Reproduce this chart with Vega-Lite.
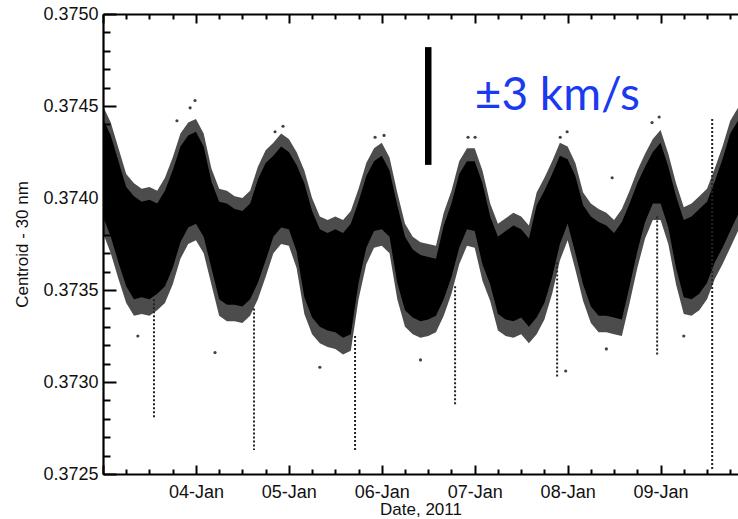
{
  "$schema": "https://vega.github.io/schema/vega-lite/v6.json",
  "width": 635,
  "height": 460,
  "autosize": {"type": "none"},
  "padding": {"left": 103, "top": 14, "right": 0, "bottom": 45},
  "background": "white",
  "config": {
    "view": {"stroke": null},
    "axis": {
      "domainColor": "black", "domainWidth": 2.2, "tickColor": "black", "tickWidth": 2,
      "labelFont": "Liberation Sans", "labelFontSize": 18, "labelColor": "#111",
      "titleFont": "Liberation Sans", "titleFontSize": 17, "titleFontWeight": "normal", "titleColor": "#111",
      "grid": false, "labelOverlap": false
    }
  },
  "datasets": {
    "band": [
      {"t":"2011-01-03T00:00Z","hi":0.37450,"lo":0.37381,"chi":0.37443,"clo":0.37390},
      {"t":"2011-01-03T02:00Z","hi":0.37441,"lo":0.37370,"chi":0.37434,"clo":0.37379},
      {"t":"2011-01-03T04:00Z","hi":0.37427,"lo":0.37356,"chi":0.37420,"clo":0.37365},
      {"t":"2011-01-03T06:00Z","hi":0.37413,"lo":0.37343,"chi":0.37406,"clo":0.37352},
      {"t":"2011-01-03T08:00Z","hi":0.37408,"lo":0.37336,"chi":0.37401,"clo":0.37345},
      {"t":"2011-01-03T10:00Z","hi":0.37405,"lo":0.37337,"chi":0.37398,"clo":0.37346},
      {"t":"2011-01-03T12:00Z","hi":0.37406,"lo":0.37336,"chi":0.37399,"clo":0.37345},
      {"t":"2011-01-03T14:00Z","hi":0.37404,"lo":0.37339,"chi":0.37397,"clo":0.37348},
      {"t":"2011-01-03T16:00Z","hi":0.37411,"lo":0.37343,"chi":0.37404,"clo":0.37352},
      {"t":"2011-01-03T18:00Z","hi":0.37422,"lo":0.37353,"chi":0.37415,"clo":0.37362},
      {"t":"2011-01-03T20:00Z","hi":0.37435,"lo":0.37367,"chi":0.37428,"clo":0.37376},
      {"t":"2011-01-03T22:00Z","hi":0.37441,"lo":0.37375,"chi":0.37434,"clo":0.37384},
      {"t":"2011-01-04T00:00Z","hi":0.37443,"lo":0.37377,"chi":0.37436,"clo":0.37386},
      {"t":"2011-01-04T02:00Z","hi":0.37435,"lo":0.37370,"chi":0.37428,"clo":0.37379},
      {"t":"2011-01-04T04:00Z","hi":0.37416,"lo":0.37353,"chi":0.37409,"clo":0.37362},
      {"t":"2011-01-04T06:00Z","hi":0.37405,"lo":0.37336,"chi":0.37398,"clo":0.37345},
      {"t":"2011-01-04T08:00Z","hi":0.37404,"lo":0.37333,"chi":0.37397,"clo":0.37342},
      {"t":"2011-01-04T10:00Z","hi":0.37401,"lo":0.37333,"chi":0.37394,"clo":0.37342},
      {"t":"2011-01-04T12:00Z","hi":0.37400,"lo":0.37332,"chi":0.37393,"clo":0.37341},
      {"t":"2011-01-04T14:00Z","hi":0.37404,"lo":0.37336,"chi":0.37397,"clo":0.37345},
      {"t":"2011-01-04T16:00Z","hi":0.37417,"lo":0.37345,"chi":0.37410,"clo":0.37354},
      {"t":"2011-01-04T18:00Z","hi":0.37426,"lo":0.37357,"chi":0.37419,"clo":0.37366},
      {"t":"2011-01-04T20:00Z","hi":0.37430,"lo":0.37370,"chi":0.37423,"clo":0.37379},
      {"t":"2011-01-04T22:00Z","hi":0.37435,"lo":0.37375,"chi":0.37428,"clo":0.37384},
      {"t":"2011-01-05T00:00Z","hi":0.37432,"lo":0.37374,"chi":0.37425,"clo":0.37383},
      {"t":"2011-01-05T02:00Z","hi":0.37425,"lo":0.37362,"chi":0.37418,"clo":0.37371},
      {"t":"2011-01-05T04:00Z","hi":0.37415,"lo":0.37337,"chi":0.37408,"clo":0.37346},
      {"t":"2011-01-05T06:00Z","hi":0.37400,"lo":0.37326,"chi":0.37393,"clo":0.37335},
      {"t":"2011-01-05T08:00Z","hi":0.37390,"lo":0.37321,"chi":0.37383,"clo":0.37330},
      {"t":"2011-01-05T10:00Z","hi":0.37388,"lo":0.37319,"chi":0.37381,"clo":0.37328},
      {"t":"2011-01-05T12:00Z","hi":0.37390,"lo":0.37318,"chi":0.37383,"clo":0.37327},
      {"t":"2011-01-05T14:00Z","hi":0.37388,"lo":0.37315,"chi":0.37381,"clo":0.37324},
      {"t":"2011-01-05T16:00Z","hi":0.37393,"lo":0.37317,"chi":0.37386,"clo":0.37326},
      {"t":"2011-01-05T18:00Z","hi":0.37405,"lo":0.37345,"chi":0.37398,"clo":0.37354},
      {"t":"2011-01-05T20:00Z","hi":0.37419,"lo":0.37364,"chi":0.37412,"clo":0.37373},
      {"t":"2011-01-05T22:00Z","hi":0.37427,"lo":0.37373,"chi":0.37420,"clo":0.37382},
      {"t":"2011-01-06T00:00Z","hi":0.37430,"lo":0.37374,"chi":0.37423,"clo":0.37383},
      {"t":"2011-01-06T02:00Z","hi":0.37422,"lo":0.37370,"chi":0.37415,"clo":0.37379},
      {"t":"2011-01-06T04:00Z","hi":0.37403,"lo":0.37345,"chi":0.37396,"clo":0.37354},
      {"t":"2011-01-06T06:00Z","hi":0.37386,"lo":0.37330,"chi":0.37379,"clo":0.37339},
      {"t":"2011-01-06T08:00Z","hi":0.37379,"lo":0.37326,"chi":0.37372,"clo":0.37335},
      {"t":"2011-01-06T10:00Z","hi":0.37376,"lo":0.37324,"chi":0.37369,"clo":0.37333},
      {"t":"2011-01-06T12:00Z","hi":0.37375,"lo":0.37325,"chi":0.37368,"clo":0.37334},
      {"t":"2011-01-06T14:00Z","hi":0.37374,"lo":0.37327,"chi":0.37367,"clo":0.37336},
      {"t":"2011-01-06T16:00Z","hi":0.37392,"lo":0.37336,"chi":0.37385,"clo":0.37345},
      {"t":"2011-01-06T18:00Z","hi":0.37404,"lo":0.37348,"chi":0.37397,"clo":0.37357},
      {"t":"2011-01-06T20:00Z","hi":0.37420,"lo":0.37364,"chi":0.37413,"clo":0.37373},
      {"t":"2011-01-06T22:00Z","hi":0.37427,"lo":0.37374,"chi":0.37420,"clo":0.37383},
      {"t":"2011-01-07T00:00Z","hi":0.37427,"lo":0.37373,"chi":0.37420,"clo":0.37382},
      {"t":"2011-01-07T02:00Z","hi":0.37415,"lo":0.37355,"chi":0.37408,"clo":0.37364},
      {"t":"2011-01-07T04:00Z","hi":0.37397,"lo":0.37344,"chi":0.37390,"clo":0.37353},
      {"t":"2011-01-07T06:00Z","hi":0.37386,"lo":0.37328,"chi":0.37379,"clo":0.37337},
      {"t":"2011-01-07T08:00Z","hi":0.37389,"lo":0.37325,"chi":0.37382,"clo":0.37334},
      {"t":"2011-01-07T10:00Z","hi":0.37392,"lo":0.37324,"chi":0.37385,"clo":0.37333},
      {"t":"2011-01-07T12:00Z","hi":0.37390,"lo":0.37326,"chi":0.37383,"clo":0.37335},
      {"t":"2011-01-07T14:00Z","hi":0.37385,"lo":0.37321,"chi":0.37378,"clo":0.37330},
      {"t":"2011-01-07T16:00Z","hi":0.37403,"lo":0.37326,"chi":0.37396,"clo":0.37335},
      {"t":"2011-01-07T18:00Z","hi":0.37411,"lo":0.37334,"chi":0.37404,"clo":0.37343},
      {"t":"2011-01-07T20:00Z","hi":0.37420,"lo":0.37348,"chi":0.37413,"clo":0.37357},
      {"t":"2011-01-07T22:00Z","hi":0.37430,"lo":0.37366,"chi":0.37423,"clo":0.37375},
      {"t":"2011-01-08T00:00Z","hi":0.37428,"lo":0.37377,"chi":0.37421,"clo":0.37386},
      {"t":"2011-01-08T02:00Z","hi":0.37419,"lo":0.37361,"chi":0.37412,"clo":0.37370},
      {"t":"2011-01-08T04:00Z","hi":0.37403,"lo":0.37344,"chi":0.37396,"clo":0.37353},
      {"t":"2011-01-08T06:00Z","hi":0.37397,"lo":0.37332,"chi":0.37390,"clo":0.37341},
      {"t":"2011-01-08T08:00Z","hi":0.37394,"lo":0.37327,"chi":0.37387,"clo":0.37336},
      {"t":"2011-01-08T10:00Z","hi":0.37392,"lo":0.37327,"chi":0.37385,"clo":0.37336},
      {"t":"2011-01-08T12:00Z","hi":0.37388,"lo":0.37326,"chi":0.37381,"clo":0.37335},
      {"t":"2011-01-08T14:00Z","hi":0.37394,"lo":0.37325,"chi":0.37387,"clo":0.37334},
      {"t":"2011-01-08T16:00Z","hi":0.37404,"lo":0.37343,"chi":0.37397,"clo":0.37352},
      {"t":"2011-01-08T18:00Z","hi":0.37415,"lo":0.37362,"chi":0.37408,"clo":0.37371},
      {"t":"2011-01-08T20:00Z","hi":0.37424,"lo":0.37378,"chi":0.37417,"clo":0.37387},
      {"t":"2011-01-08T22:00Z","hi":0.37432,"lo":0.37388,"chi":0.37425,"clo":0.37397},
      {"t":"2011-01-09T00:00Z","hi":0.37437,"lo":0.37388,"chi":0.37430,"clo":0.37397},
      {"t":"2011-01-09T02:00Z","hi":0.37424,"lo":0.37375,"chi":0.37417,"clo":0.37384},
      {"t":"2011-01-09T04:00Z","hi":0.37408,"lo":0.37353,"chi":0.37401,"clo":0.37362},
      {"t":"2011-01-09T06:00Z","hi":0.37395,"lo":0.37337,"chi":0.37388,"clo":0.37346},
      {"t":"2011-01-09T08:00Z","hi":0.37397,"lo":0.37336,"chi":0.37390,"clo":0.37345},
      {"t":"2011-01-09T10:00Z","hi":0.37401,"lo":0.37339,"chi":0.37394,"clo":0.37348},
      {"t":"2011-01-09T12:00Z","hi":0.37405,"lo":0.37345,"chi":0.37398,"clo":0.37354},
      {"t":"2011-01-09T14:00Z","hi":0.37416,"lo":0.37356,"chi":0.37409,"clo":0.37365},
      {"t":"2011-01-09T16:00Z","hi":0.37428,"lo":0.37364,"chi":0.37421,"clo":0.37373},
      {"t":"2011-01-09T18:00Z","hi":0.37442,"lo":0.37373,"chi":0.37435,"clo":0.37382},
      {"t":"2011-01-09T20:00Z","hi":0.37449,"lo":0.37382,"chi":0.37442,"clo":0.37391}
    ],
    "spikes": [
      {"t":"2011-01-03T13:10Z","hi":0.37345,"lo":0.37280},
      {"t":"2011-01-04T15:00Z","hi":0.37340,"lo":0.37263},
      {"t":"2011-01-05T17:06Z","hi":0.37325,"lo":0.37262},
      {"t":"2011-01-06T18:56Z","hi":0.37352,"lo":0.37287},
      {"t":"2011-01-07T21:17Z","hi":0.37365,"lo":0.37303},
      {"t":"2011-01-08T23:07Z","hi":0.37390,"lo":0.37314},
      {"t":"2011-01-09T13:20Z","hi":0.37443,"lo":0.37252}
    ],
    "outliers": [
      {"t":"2011-01-03T19:06Z","v":0.37442},
      {"t":"2011-01-03T23:46Z","v":0.37453},
      {"t":"2011-01-03T22:30Z","v":0.37449},
      {"t":"2011-01-04T22:30Z","v":0.37439},
      {"t":"2011-01-04T20:26Z","v":0.37436},
      {"t":"2011-01-05T22:16Z","v":0.37433},
      {"t":"2011-01-06T00:35Z","v":0.37434},
      {"t":"2011-01-06T22:17Z","v":0.37433},
      {"t":"2011-01-07T00:06Z","v":0.37433},
      {"t":"2011-01-07T23:52Z","v":0.37436},
      {"t":"2011-01-07T22:05Z","v":0.37433},
      {"t":"2011-01-08T23:38Z","v":0.37444},
      {"t":"2011-01-08T21:48Z","v":0.37441},
      {"t":"2011-01-08T11:30Z","v":0.37411},
      {"t":"2011-01-04T04:56Z","v":0.37316},
      {"t":"2011-01-07T23:30Z","v":0.37306},
      {"t":"2011-01-05T08:00Z","v":0.37308},
      {"t":"2011-01-06T10:00Z","v":0.37312},
      {"t":"2011-01-08T10:00Z","v":0.37318},
      {"t":"2011-01-09T06:00Z","v":0.37325},
      {"t":"2011-01-03T09:00Z","v":0.37325}
    ],
    "bar": [{"t":"2011-01-06T12:00Z","hi":0.37482,"lo":0.37418}],
    "note": [{"t":"2011-01-07T00:00Z","v":0.37448,"label":"±3 km/s"}]
  },
  "resolve": {"axis": {"x": "independent"}},
  "layer": [
    {
      "data": {"name": "band"},
      "mark": {"type": "area", "color": "black", "opacity": 0.7, "clip": true},
      "encoding": {
        "x": {"field": "t", "type": "temporal",
              "scale": {"type": "utc", "domain": [{"year":2011,"month":1,"date":3,"utc":true},{"year":2011,"month":1,"date":9,"hours":20,"utc":true}]},
              "axis": {
                "orient": "bottom", "title": "Date, 2011", "titlePadding": -4, "labelOverlap": false, "tickCount": 60,
                "values": [
                  {"year":2011,"month":1,"date":3,"hours":0,"utc":true},{"year":2011,"month":1,"date":3,"hours":6,"utc":true},{"year":2011,"month":1,"date":3,"hours":12,"utc":true},{"year":2011,"month":1,"date":3,"hours":18,"utc":true},
                  {"year":2011,"month":1,"date":4,"hours":0,"utc":true},{"year":2011,"month":1,"date":4,"hours":6,"utc":true},{"year":2011,"month":1,"date":4,"hours":12,"utc":true},{"year":2011,"month":1,"date":4,"hours":18,"utc":true},
                  {"year":2011,"month":1,"date":5,"hours":0,"utc":true},{"year":2011,"month":1,"date":5,"hours":6,"utc":true},{"year":2011,"month":1,"date":5,"hours":12,"utc":true},{"year":2011,"month":1,"date":5,"hours":18,"utc":true},
                  {"year":2011,"month":1,"date":6,"hours":0,"utc":true},{"year":2011,"month":1,"date":6,"hours":6,"utc":true},{"year":2011,"month":1,"date":6,"hours":12,"utc":true},{"year":2011,"month":1,"date":6,"hours":18,"utc":true},
                  {"year":2011,"month":1,"date":7,"hours":0,"utc":true},{"year":2011,"month":1,"date":7,"hours":6,"utc":true},{"year":2011,"month":1,"date":7,"hours":12,"utc":true},{"year":2011,"month":1,"date":7,"hours":18,"utc":true},
                  {"year":2011,"month":1,"date":8,"hours":0,"utc":true},{"year":2011,"month":1,"date":8,"hours":6,"utc":true},{"year":2011,"month":1,"date":8,"hours":12,"utc":true},{"year":2011,"month":1,"date":8,"hours":18,"utc":true},
                  {"year":2011,"month":1,"date":9,"hours":0,"utc":true},{"year":2011,"month":1,"date":9,"hours":6,"utc":true},{"year":2011,"month":1,"date":9,"hours":12,"utc":true},{"year":2011,"month":1,"date":9,"hours":18,"utc":true}
                ],
                "labelExpr": "utchours(datum.value) == 0 && utcdate(datum.value) != 3 ? utcFormat(datum.value, '%d-%b') : ''",
                "tickSize": {"condition": {"test": "utchours(datum.value) == 0", "value": -9}, "value": -5},
                "labelPadding": 18
              }},
        "y": {"field": "hi", "type": "quantitative",
              "scale": {"domain": [0.3725, 0.3750], "zero": false, "nice": false},
              "axis": {
                "title": "Centroid - 30 nm", "titlePadding": 11, "labelOverlap": false, "tickCount": 60,
                "values": [0.3725,0.3726,0.3727,0.3728,0.3729,0.3730,0.3731,0.3732,0.3733,0.3734,0.3735,0.3736,0.3737,0.3738,0.3739,0.3740,0.3741,0.3742,0.3743,0.3744,0.3745,0.3746,0.3747,0.3748,0.3749,0.3750],
                "labelExpr": "abs(datum.value*2000 - round(datum.value*2000)) < 0.01 ? format(datum.value, '.4f') : ''",
                "tickSize": {"condition": {"test": "abs(datum.value*2000 - round(datum.value*2000)) < 0.01", "value": -13}, "value": -7},
                "labelPadding": 18
              }},
        "y2": {"field": "lo"}
      }
    },
    {
      "data": {"name": "band"},
      "mark": {"type": "area", "color": "black", "opacity": 1, "clip": true},
      "encoding": {
        "x": {"field": "t", "type": "temporal", "axis": null},
        "y": {"field": "chi", "type": "quantitative", "title": "Centroid - 30 nm"},
        "y2": {"field": "clo"}
      }
    },
    {
      "data": {"name": "spikes"},
      "mark": {"type": "rule", "color": "#222", "strokeWidth": 2, "strokeDash": [2, 2], "clip": true},
      "encoding": {
        "x": {"field": "t", "type": "temporal", "axis": null},
        "y": {"field": "hi", "type": "quantitative", "title": "Centroid - 30 nm"},
        "y2": {"field": "lo"}
      }
    },
    {
      "data": {"name": "outliers"},
      "mark": {"type": "point", "filled": true, "color": "#111", "size": 10, "opacity": 0.8, "clip": true},
      "encoding": {
        "x": {"field": "t", "type": "temporal", "axis": null},
        "y": {"field": "v", "type": "quantitative", "title": "Centroid - 30 nm"}
      }
    },
    {
      "data": {"name": "bar"},
      "mark": {"type": "rule", "color": "black", "strokeWidth": 6.5},
      "encoding": {
        "x": {"field": "t", "type": "temporal",
              "axis": {
                "orient": "top", "title": null, "labels": false, "tickCount": 60,
                "values": [
                  {"year":2011,"month":1,"date":3,"hours":0,"utc":true},{"year":2011,"month":1,"date":3,"hours":6,"utc":true},{"year":2011,"month":1,"date":3,"hours":12,"utc":true},{"year":2011,"month":1,"date":3,"hours":18,"utc":true},
                  {"year":2011,"month":1,"date":4,"hours":0,"utc":true},{"year":2011,"month":1,"date":4,"hours":6,"utc":true},{"year":2011,"month":1,"date":4,"hours":12,"utc":true},{"year":2011,"month":1,"date":4,"hours":18,"utc":true},
                  {"year":2011,"month":1,"date":5,"hours":0,"utc":true},{"year":2011,"month":1,"date":5,"hours":6,"utc":true},{"year":2011,"month":1,"date":5,"hours":12,"utc":true},{"year":2011,"month":1,"date":5,"hours":18,"utc":true},
                  {"year":2011,"month":1,"date":6,"hours":0,"utc":true},{"year":2011,"month":1,"date":6,"hours":6,"utc":true},{"year":2011,"month":1,"date":6,"hours":12,"utc":true},{"year":2011,"month":1,"date":6,"hours":18,"utc":true},
                  {"year":2011,"month":1,"date":7,"hours":0,"utc":true},{"year":2011,"month":1,"date":7,"hours":6,"utc":true},{"year":2011,"month":1,"date":7,"hours":12,"utc":true},{"year":2011,"month":1,"date":7,"hours":18,"utc":true},
                  {"year":2011,"month":1,"date":8,"hours":0,"utc":true},{"year":2011,"month":1,"date":8,"hours":6,"utc":true},{"year":2011,"month":1,"date":8,"hours":12,"utc":true},{"year":2011,"month":1,"date":8,"hours":18,"utc":true},
                  {"year":2011,"month":1,"date":9,"hours":0,"utc":true},{"year":2011,"month":1,"date":9,"hours":6,"utc":true},{"year":2011,"month":1,"date":9,"hours":12,"utc":true},{"year":2011,"month":1,"date":9,"hours":18,"utc":true}
                ],
                "tickSize": {"condition": {"test": "utchours(datum.value) == 0", "value": -9}, "value": -5}
              }},
        "y": {"field": "hi", "type": "quantitative", "title": "Centroid - 30 nm"},
        "y2": {"field": "lo"}
      }
    },
    {
      "data": {"name": "note"},
      "mark": {"type": "text", "align": "left", "baseline": "alphabetic", "font": "Lato", "fontSize": 46, "color": "#1a3af0"},
      "encoding": {
        "x": {"field": "t", "type": "temporal", "axis": null},
        "y": {"field": "v", "type": "quantitative", "title": "Centroid - 30 nm"},
        "text": {"field": "label"}
      }
    }
  ]
}
